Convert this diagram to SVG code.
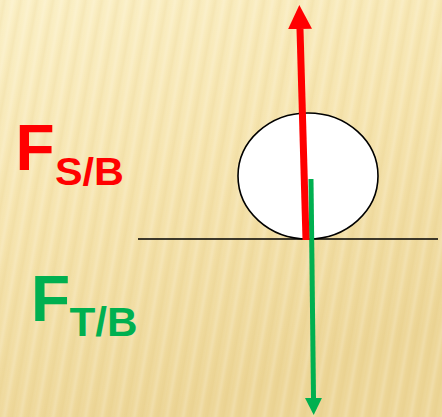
<svg xmlns="http://www.w3.org/2000/svg" width="442" height="417" viewBox="0 0 442 417">
  <style>
    .lbl { font-family: "Liberation Sans", Arial, sans-serif; font-weight: bold; }
    .red { fill: #FF0000; }
    .green { fill: #00B050; }
    .outline { stroke: #000000; stroke-width: 1.6; }
  </style>
  <defs>
    <linearGradient id="bg" x1="0" y1="0" x2="0.35" y2="1">
      <stop offset="0" stop-color="#FBF0C6"/>
      <stop offset="0.5" stop-color="#F6E4AE"/>
      <stop offset="1" stop-color="#EDD697"/>
    </linearGradient>
    <linearGradient id="stripeGrad" x1="0" y1="0" x2="1" y2="0">
      <stop offset="0" stop-color="#D6BA6C" stop-opacity="0"/>
      <stop offset="0.3" stop-color="#D6BA6C" stop-opacity="0.14"/>
      <stop offset="0.55" stop-color="#FFFFFF" stop-opacity="0"/>
      <stop offset="0.8" stop-color="#FFFFFF" stop-opacity="0.18"/>
      <stop offset="1" stop-color="#FFFFFF" stop-opacity="0"/>
    </linearGradient>
    <pattern id="stripes" patternUnits="userSpaceOnUse" width="16" height="40" patternTransform="rotate(10)">
      <rect x="0" y="0" width="16" height="40" fill="url(#stripeGrad)"/>
    </pattern>
    <marker id="headRed" markerUnits="userSpaceOnUse" markerWidth="26" markerHeight="26" viewBox="0 -13 26 26" refX="0" refY="0" orient="auto">
      <path d="M0,-12 L24,0 L0,12 Z" fill="#FF0000"/>
    </marker>
    <marker id="headGreen" markerUnits="userSpaceOnUse" markerWidth="20" markerHeight="20" viewBox="0 -10 20 20" refX="0" refY="0" orient="auto">
      <path d="M0,-8.5 L17,0 L0,8.5 Z" fill="#00B050"/>
    </marker>
  </defs>

  <rect x="0" y="0" width="442" height="417" fill="url(#bg)"/>
  <rect x="0" y="0" width="442" height="417" fill="url(#stripes)"/>

  <g id="ground">
    <line x1="138" y1="239" x2="438" y2="239" class="outline"/>
  </g>

  <g id="ball">
    <ellipse cx="308" cy="176" rx="70" ry="63" fill="#FFFFFF" class="outline"/>
  </g>

  <g id="connectors">
    <line id="force-tb" x1="311" y1="179" x2="313.5" y2="398" stroke="#00B050" stroke-width="5" marker-end="url(#headGreen)"/>
    <line id="force-sb" x1="306" y1="240" x2="300" y2="29" stroke="#FF0000" stroke-width="7" marker-end="url(#headRed)"/>
  </g>

  <g id="label-fsb">
    <text x="15.5" y="170" class="lbl red" font-size="64">F</text>
    <text x="55" y="185" class="lbl red" font-size="38" textLength="69" lengthAdjust="spacingAndGlyphs">S/B</text>
  </g>

  <g id="label-ftb">
    <text x="31" y="321" class="lbl green" font-size="64">F</text>
    <text x="69.5" y="336" class="lbl green" font-size="40" textLength="68" lengthAdjust="spacingAndGlyphs">T/B</text>
  </g>
</svg>
